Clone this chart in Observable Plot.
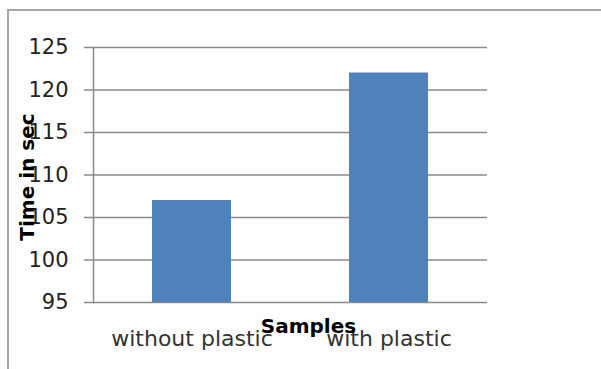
<!DOCTYPE html>
<html>
<head>
<meta charset="utf-8">
<script src="https://cdn.jsdelivr.net/npm/d3@7"></script>
<script src="https://cdn.jsdelivr.net/npm/@observablehq/plot@0.6"></script>
<style>
  html, body { margin: 0; padding: 0; background: #fff; }
  #wrap { position: relative; width: 601px; height: 369px; overflow: hidden; }
  #border {
    position: absolute; left: 7px; top: 9px; width: 700px; height: 500px;
    border: 2px solid #a6a6a6; box-sizing: border-box; pointer-events: none;
  }
  #chart { position: absolute; left: 0; top: 0; }
  #chart svg { font-family: "DejaVu Sans", sans-serif; }
</style>
</head>
<body>
<div id="wrap">
  <div id="chart"></div>
  <div id="border"></div>
</div>
<script>
// Samples and measured time (seconds)
const samples = ["without plastic", "with plastic"];
const times = [107, 122];
const yTicks = [95, 100, 105, 110, 115, 120, 125];
const xTitle = "Samples";
const yTitle = "Time in sec";

const data = samples.map((s, i) => ({sample: s, time: times[i]}));

const chart = Plot.plot({
  width: 601,
  height: 369,
  marginLeft: 93,
  marginRight: 114,
  marginTop: 47,
  marginBottom: 67,
  style: {fontFamily: "DejaVu Sans, sans-serif", background: "#fff"},
  x: {domain: samples, paddingInner: 0.6, paddingOuter: 0.3, label: null},
  y: {domain: [95, 125], ticks: yTicks, label: null},
  marks: [
    Plot.gridY(yTicks, {stroke: "#8a8a8a", strokeOpacity: 1, strokeWidth: 1.5}),
    Plot.axisY(yTicks, {
      tickSize: 9, tickPadding: 16, stroke: "#8a8a8a", strokeWidth: 1.5,
      fontSize: 21, fill: "#222", label: null
    }),
    Plot.barY(data, {x: "sample", y1: 95, y2: "time", fill: "#4f81bd"}),
    Plot.frame({anchor: "left", stroke: "#8a8a8a", strokeWidth: 1.5}),
    Plot.axisX({
      tickSize: 0, tickPadding: 28, fontSize: 22, fill: "#333", label: null
    }),
    Plot.text([xTitle], {
      frameAnchor: "bottom", x: null, dx: 18, dy: 30,
      fontSize: 20, fontWeight: "bold", fill: "#000"
    }),
    Plot.text([yTitle], {
      frameAnchor: "left", textAnchor: "middle", dx: -66, dy: 2, rotate: -90,
      fontSize: 20, fontWeight: "bold", fill: "#000"
    })
  ]
});

document.getElementById("chart").appendChild(chart);
</script>
</body>
</html>
